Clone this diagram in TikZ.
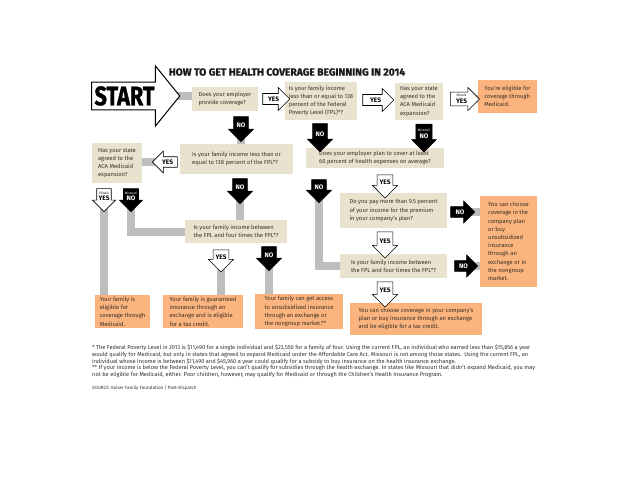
\documentclass[tikz,border=0pt]{standalone}
\usepackage{fontspec}
\setmainfont{Fira Sans}
\newfontfamily\heavyfont{Fira Sans}[BoldFeatures={FakeBold=1.3}]
\usetikzlibrary{shapes.arrows,backgrounds,positioning}

\definecolor{qbeige}{RGB}{233,226,206}
\definecolor{aorange}{RGB}{251,180,125}
\definecolor{linkgray}{RGB}{190,190,190}
\definecolor{inkdark}{RGB}{55,48,42}

\newcommand{\statename}[1]{{\fontsize{3.2}{3.6}\selectfont\mdseries #1}}

\tikzset{
  qbox/.style={rectangle, fill=qbeige, inner sep=2pt, align=left, text=inkdark,
    font=\fontsize{5.8}{8.2}\selectfont},
  abox/.style={qbox, fill=aorange},
  conn/.style={draw=linkgray, line width=8pt},
  yesarrow/.style={single arrow, draw=black, fill=white, line width=0.6pt,
    inner sep=1pt, single arrow head extend=4pt, align=center, text=black,
    font=\bfseries\fontsize{6.5}{6.5}\selectfont},
  noarrow/.style={yesarrow, fill=black, text=white},
  pointdown/.style={shape border rotate=270},
  pointleft/.style={shape border rotate=180},
}

\begin{document}
\begin{tikzpicture}[x=1pt, y=-1pt]
\useasboundingbox (0,0) rectangle (620,479);

% title and start
\node[font=\heavyfont\bfseries\fontsize{10.3}{11}\selectfont, text=black!90] (title) at (287,72)
  {HOW TO GET HEALTH COVERAGE BEGINNING IN 2014};
\node[single arrow, draw=black, fill=white, line width=1pt, single arrow head extend=13pt,
  single arrow tip angle=102, minimum width=60pt, inner xsep=2.5pt, inner ysep=1pt,
  font=\heavyfont\bfseries\fontsize{27}{27}\selectfont] (start) at (130,96)
  {\resizebox{60pt}{19pt}{START}\kern11pt};

% question boxes
\node[qbox, minimum width=66pt, minimum height=24pt] (employer) at (225,99)
  {Does your employer\\provide coverage?};
\node[qbox, minimum width=72pt, minimum height=38pt] (income) at (321,101)
  {Is your family income\\less than or equal to 138\\percent of the Federal\\Poverty Level (FPL)*?};
\node[qbox, minimum width=48pt, minimum height=37pt] (stateA) at (419,101.5)
  {Has your state\\agreed to the\\ACA Medicaid\\expansion?};
\node[abox, minimum width=59pt, minimum height=33pt] (medicaidA) at (507.5,96.5)
  {You're eligible for\\coverage through\\Medicaid.};
\node[qbox, minimum width=113pt, minimum height=30pt] (incomeB) at (236.5,159)
  {Is your family income less than or\\equal to 138 percent of the FPL*?};
\node[qbox, minimum width=50pt, minimum height=40pt] (stateB) at (117,163)
  {Has your state\\agreed to the\\ACA Medicaid\\expansion?};
\node[qbox, minimum width=138pt, minimum height=20pt] (plan) at (375,158)
  {Does your employer plan to cover at least\\60 percent of health expenses on average?};
\node[qbox, minimum width=102pt, minimum height=23pt] (fplB) at (236,231.5)
  {Is your family income between\\the FPL and four times the FPL*?};
\node[qbox, minimum width=107pt, minimum height=35pt] (premium) at (393.5,210.5)
  {Do you pay more than 9.5 percent\\of your income for the premium\\in your company's plan?};
\node[qbox, minimum width=107pt, minimum height=24pt] (fplC) at (393.5,266)
  {Is your family income between\\the FPL and four times the FPL*?};

% answer boxes
\node[abox, minimum width=57pt, minimum height=91pt] (choose) at (508.5,241.5)
  {You can choose\\coverage in the\\company plan\\or buy\\unsubsidized\\insurance\\through an\\exchange or in\\the nongroup\\market.};
\node[abox, minimum width=55pt, minimum height=33pt] (medicaidB) at (122.5,311.5)
  {Your family is\\eligible for\\coverage through\\Medicaid.};
\node[abox, minimum width=80pt, minimum height=33pt] (guaranteed) at (203,311.5)
  {Your family is guaranteed\\insurance through an\\exchange and is eligible\\for a tax credit.};
\node[abox, minimum width=88pt, minimum height=33pt] (access) at (299,311.5)
  {Your family can get access\\to unsubsidized insurance\\through an exchange or\\the nongroup market.**};
\node[abox, minimum width=132pt, minimum height=32pt] (taxcredit) at (416,319)
  {You can choose coverage in your company's\\plan or buy insurance through an exchange\\and be eligible for a tax credit.};

% yes / no arrows
\node[yesarrow, minimum height=27pt, minimum width=23pt] (yes1) at (273.5,99) {YES};
\node[yesarrow, minimum height=31pt, minimum width=23pt] (yes2) at (375.5,100) {YES};
\node[yesarrow, minimum height=29pt, minimum width=23pt] (yesIL) at (461.5,99) {\statename{Illinois}\\YES};
\node[noarrow, pointdown, minimum height=25pt, minimum width=25pt] (no1) at (241,125.5) {NO};
\node[noarrow, pointdown, minimum height=28pt, minimum width=25pt] (no2) at (320,134) {NO};
\node[noarrow, pointdown, minimum height=28pt, minimum width=25pt] (noMO) at (424,134) {\statename{Missouri}\\NO};
\node[yesarrow, pointleft, minimum height=25pt, minimum width=22pt] (yesL) at (167.5,162) {YES};
\node[noarrow, pointdown, minimum height=25pt, minimum width=25pt] (no5) at (240,187.5) {NO};
\node[yesarrow, pointdown, minimum height=23pt, minimum width=23pt] (yesIL2) at (104,196.5) {\statename{Illinois}\\YES};
\node[noarrow, pointdown, minimum height=23pt, minimum width=23pt] (noMO2) at (131,196.5) {\statename{Missouri}\\NO};
\node[noarrow, pointdown, minimum height=23pt, minimum width=25pt] (no4) at (319,187.5) {NO};
\node[yesarrow, pointdown, minimum height=23pt, minimum width=25pt] (yes4) at (385,182.5) {YES};
\node[noarrow, minimum height=24pt, minimum width=22pt] (no8) at (460,212) {NO};
\node[yesarrow, pointdown, minimum height=26pt, minimum width=25pt] (yes8) at (385,241) {YES};
\node[noarrow, minimum height=23pt, minimum width=22pt] (no9) at (463.5,266) {NO};
\node[yesarrow, pointdown, minimum height=22pt, minimum width=25pt] (yes7) at (221,257) {YES};
\node[noarrow, pointdown, minimum height=24pt, minimum width=25pt] (no7) at (269,255) {NO};
\node[yesarrow, pointdown, minimum height=25pt, minimum width=25pt] (yes9) at (385,290.5) {YES};

% grey links behind the arrows
\begin{pgfonlayer}{background}
\fill[white] (0,0) rectangle (620,479);
\draw[conn] (start.center) -- (start.center -| employer.west);
\draw[conn] (yesIL.center) -- (yesIL.center -| medicaidA.west);
\draw[conn] (no1.center) -- (no1.center |- incomeB.north);
\draw[conn] (yesL.center) -- (yesL.center -| stateB.east);
\draw[conn] (no5.center) -- (no5.center |- fplB.north);
\draw[conn] (yesIL2.center) -- (yesIL2.center |- medicaidB.north);
\draw[conn] (noMO2.center) |- (fplB.west);
\draw[conn] (yes7.center) -- (yes7.center |- guaranteed.north);
\draw[conn] (no7.center) -- (no7.center |- access.north);
\draw[conn] (no4.center) |- (fplC.west);
\draw[conn] (no8.center) -- (no8.center -| choose.west);
\draw[conn] (no9.center) -- (no9.center -| choose.west);
\end{pgfonlayer}

% footnotes
\node[anchor=north west, align=left, inner sep=0pt, text=inkdark,
  font=\fontsize{5.65}{6.7}\selectfont] (notes) at (92,345)
  {* The Federal Poverty Level in 2013 is \$11,490 for a single individual and \$23,550 for a family of four. Using the current FPL, an individual who earned less than \$15,856 a year\\
   would qualify for Medicaid, but only in states that agreed to expand Medicaid under the Affordable Care Act. Missouri is not among those states.\ \ Using the current FPL, an\\
   individual whose income is between \$11,490 and \$45,960 a year could qualify for a subsidy to buy insurance on the health insurance exchange.\\
   ** If your income is below the Federal Poverty Level, you can't qualify for subsidies through the health exchange. In states like Missouri that didn't expand Medicaid, you may\\
   not be eligible for Medicaid, either. Poor children, however, may qualify for Medicaid or through the Children's Health Insurance Program.};
\node[anchor=north west, inner sep=0pt, text=inkdark, font=\fontsize{4.6}{5}\selectfont]
  (source) at (92,386) {SOURCE: Kaiser Family Foundation | Post-Dispatch};
\end{tikzpicture}
\end{document}
